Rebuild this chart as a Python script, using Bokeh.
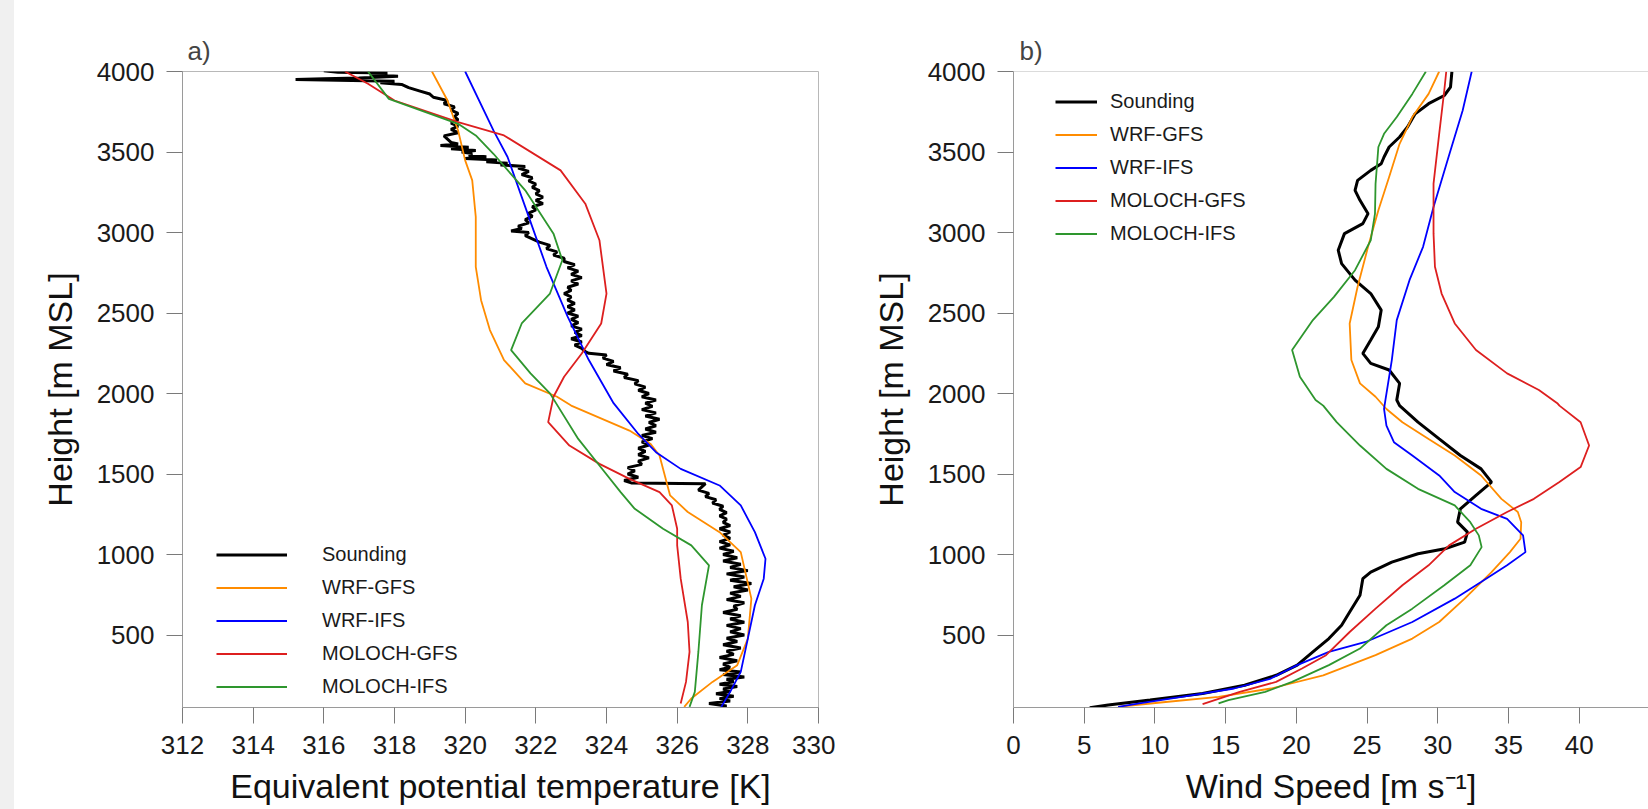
from bokeh.plotting import figure
from bokeh.models import Range1d, FixedTicker, Legend, LegendItem, Span, Div
from bokeh.layouts import row
from bokeh.embed import file_html
from bokeh.resources import INLINE

FONT = "Liberation Sans"
SERIES = ["Sounding", "WRF-GFS", "WRF-IFS", "MOLOCH-GFS", "MOLOCH-IFS"]
COLORS = ["#000000", "#ff8c00", "#0000ff", "#dd1f1f", "#2e962e"]
WIDTHS = [3, 1.8, 1.8, 1.8, 1.8]

# ---------------- panel a) equivalent potential temperature ----------------
SOUND_H_A = [44, 60, 75, 90, 105, 120, 135, 150, 165, 180, 195, 210, 225, 240, 255, 270, 285, 300,
             320, 340, 360, 380, 400, 420, 440, 460, 480, 500, 520, 540, 560, 580, 600, 620, 640, 660,
             680, 700, 720, 740, 760, 780, 800, 820, 840, 860, 880, 900, 920, 940, 960, 980, 1000,
             1020, 1040, 1060, 1080, 1100, 1120, 1140, 1160, 1180, 1200, 1220, 1240, 1260, 1280, 1300,
             1320, 1340, 1360, 1380, 1400, 1420, 1440, 1445, 1460, 1480, 1500, 1520, 1540, 1560, 1580,
             1600, 1620, 1640, 1660, 1680, 1700, 1720, 1740, 1760, 1780, 1800, 1820, 1840, 1860, 1880,
             1900, 1920, 1940, 1960, 1980, 2000, 2020, 2040, 2060, 2080, 2100, 2120, 2140, 2160, 2180,
             2200, 2220, 2240, 2250, 2260, 2280, 2300, 2320, 2340, 2360, 2380, 2400, 2420, 2440, 2460,
             2480, 2500, 2520, 2540, 2560, 2580, 2600, 2620, 2640, 2660, 2680, 2700, 2720, 2740, 2760,
             2780, 2800, 2820, 2840, 2860, 2880, 2900, 2920, 2940, 2960, 2980, 3000, 3010, 3025, 3040,
             3060, 3080, 3100, 3120, 3140, 3160, 3180, 3200, 3220, 3240, 3260, 3280, 3300, 3320, 3340,
             3360, 3380, 3400, 3410, 3420, 3430, 3440, 3450, 3460, 3470, 3480, 3490, 3500, 3510, 3520,
             3530, 3540, 3550, 3560, 3580, 3600, 3620, 3640, 3660, 3680, 3700, 3720, 3740, 3760, 3780,
             3800, 3820, 3840, 3860, 3880, 3900, 3920, 3930, 3940, 3950, 3955, 3960, 3970, 3980, 3990,
             3995, 4005]
SOUND_T_A = [327.0, 327.4, 326.9, 327.5, 327.2, 327.6, 327.1, 327.5, 327.3, 327.7, 327.2, 327.6, 327.4,
             327.9, 327.3, 327.8, 327.2, 327.5, 327.3, 327.7, 327.2, 327.6, 327.4, 327.8, 327.3, 327.7,
             327.4, 327.9, 327.5, 327.8, 327.4, 327.9, 327.5, 327.8, 327.3, 327.7, 327.6, 327.9, 327.4,
             327.8, 327.5, 328.0, 327.6, 328.1, 327.5, 327.9, 327.4, 328.0, 327.5, 327.8, 327.3, 327.7,
             327.3, 327.6, 327.2, 327.5, 327.2, 327.5, 327.3, 327.5, 327.2, 327.5, 327.3, 327.4, 327.2,
             327.4, 327.2, 327.3, 327.0, 327.1, 326.8, 326.9, 326.6, 326.7, 326.8, 324.7, 324.5, 324.9,
             324.6, 324.8, 324.6, 325.0, 324.9, 325.2, 324.9, 325.1, 324.9, 325.2, 325.0, 325.3, 325.0,
             325.4, 325.1, 325.4, 325.2, 325.5, 325.1, 325.4, 325.0, 325.3, 325.1, 325.4, 325.0, 325.2,
             324.9, 325.1, 324.8, 324.9, 324.5, 324.6, 324.2, 324.4, 324.0, 324.2, 323.9, 324.0, 323.5,
             323.4, 323.3, 323.1, 323.3, 323.0, 323.3, 323.1, 323.3, 323.0, 323.2, 323.0, 323.2, 322.9,
             323.1, 322.9, 323.1, 322.9, 323.0, 322.8, 323.0, 322.9, 323.2, 323.0, 323.3, 323.0, 323.2,
             322.9, 323.1, 322.8, 322.8, 322.5, 322.6, 322.3, 322.4, 322.1, 321.9, 321.7, 321.8, 321.3,
             321.6, 321.5, 321.8, 321.7, 321.9, 321.8, 322.0, 321.9, 322.2, 322.0, 322.2, 322.0, 322.1,
             321.9, 322.0, 321.8, 321.9, 321.6, 321.8, 321.5, 321.7, 321.0, 321.2, 320.6, 320.9, 320.0,
             320.6, 320.1, 320.2, 319.9, 320.3, 319.6, 320.1, 319.3, 319.8, 319.6, 319.5, 319.4, 319.8,
             319.6, 319.8, 319.6, 319.8, 319.7, 319.8, 319.6, 319.7, 319.4, 319.5, 319.1, 319.0, 318.7,
             318.4, 318.2, 317.6, 318.0, 315.2, 316.0, 317.0, 318.1, 317.3, 317.8, 316.4, 316.0]

WRFGFS_H_A = [4000, 3820, 3634, 3448, 3324, 3097, 2787, 2580, 2394, 2208, 2063, 1980, 1925, 1770, 1687,
              1615, 1367, 1264, 1139, 1015, 726, 478, 313, 209, 106, 54]
WRFGFS_T_A = [319.06, 319.5, 319.8, 320.0, 320.2, 320.3, 320.3, 320.45, 320.7, 321.1, 321.7, 322.6,
              323.0, 324.65, 325.25, 325.5, 325.8, 326.3, 327.2, 327.8, 328.1, 328.0, 327.7, 327.0,
              326.4, 326.2]

WRFIFS_H_A = [4000, 3634, 3469, 3159, 2787, 2477, 2208, 1940, 1749, 1636, 1532, 1429, 1305, 1139, 974,
              850, 685, 478, 271, 147, 54]
WRFIFS_T_A = [320.0, 320.8, 321.2, 321.7, 322.3, 322.9, 323.5, 324.2, 324.9, 325.4, 326.1, 327.2, 327.8,
              328.2, 328.5, 328.45, 328.2, 328.0, 327.8, 327.5, 327.25]

MOLGFS_H_A = [4000, 3924, 3820, 3686, 3603, 3386, 3179, 2952, 2621, 2435, 2249, 2104, 1980, 1822, 1677,
              1563, 1470, 1388, 1305, 1160, 1057, 850, 581, 395, 209, 75]
MOLGFS_T_A = [316.6, 317.25, 318.0, 319.8, 321.1, 322.7, 323.4, 323.8, 324.0, 323.85, 323.3, 322.8,
              322.5, 322.35, 322.95, 323.8, 324.65, 325.5, 325.85, 326.0, 326.0, 326.1, 326.3, 326.35,
              326.25, 326.1]

MOLIFS_H_A = [4000, 3830, 3675, 3603, 3489, 3262, 2993, 2828, 2621, 2435, 2270, 2125, 2001, 1718, 1553,
              1388, 1284, 1160, 1057, 933, 685, 395, 147, 54]
MOLIFS_T_A = [317.25, 317.84, 319.8, 320.3, 320.8, 321.7, 322.5, 322.75, 322.4, 321.6, 321.3, 321.85,
              322.4, 323.2, 323.8, 324.4, 324.8, 325.6, 326.4, 326.9, 326.7, 326.6, 326.5, 326.35]

# ---------------- panel b) wind speed ----------------
SOUND_H_B = [4000, 3903, 3851, 3800, 3737, 3655, 3593, 3531, 3469, 3427, 3386, 3324, 3262, 3200, 3117,
             3055, 2993, 2890, 2807, 2704, 2621, 2518, 2414, 2332, 2249, 2187, 2146, 2063, 1960, 1925,
             1822, 1718, 1615, 1532, 1450, 1367, 1284, 1201, 1139, 1077, 1036, 1005, 953, 891, 850, 747,
             643, 561, 478, 395, 313, 250, 188, 137, 96, 65, 48]
SOUND_V_B = [31.0, 30.9, 30.46, 29.35, 28.4, 27.86, 27.3, 26.56, 26.2, 26.0, 25.26, 24.33, 24.15, 24.5,
             25.07, 24.7, 23.4, 22.96, 23.2, 24.15, 25.26, 26.0, 25.8, 25.26, 24.7, 25.26, 26.56, 27.3,
             27.1, 27.3, 28.6, 30.1, 31.6, 33.06, 33.8, 32.7, 31.6, 31.4, 32.1, 31.9, 30.5, 28.6, 26.75,
             25.26, 24.7, 24.5, 23.77, 23.2, 22.3, 21.17, 20.06, 18.57, 16.34, 13.37, 9.66, 6.7, 5.39]

WRFGFS_H_B = [4000, 3861, 3717, 3551, 3345, 3138, 2911, 2663, 2435, 2208, 2063, 1980, 1904, 1822, 1718,
              1615, 1491, 1346, 1264, 1201, 1098, 1015, 891, 726, 581, 478, 375, 250, 168, 116, 81, 54]
WRFGFS_V_B = [30.1, 29.35, 28.2, 27.3, 26.56, 25.8, 25.07, 24.33, 23.77, 23.89, 24.5, 25.6, 26.37, 27.5,
              29.35, 31.2, 33.06, 34.5, 35.66, 35.9, 35.85, 35.1, 33.8, 31.9, 30.1, 28.2, 25.6, 21.9,
              18.2, 14.5, 10.4, 7.4]

WRFIFS_H_B = [4000, 3758, 3489, 3159, 2911, 2704, 2456, 2208, 1960, 1904, 1801, 1698, 1615, 1491, 1388,
              1284, 1222, 1119, 1015, 933, 829, 726, 581, 457, 395, 313, 230, 168, 116, 75, 54]
WRFIFS_V_B = [32.4, 31.76, 30.83, 29.7, 28.96, 28.0, 27.1, 26.75, 26.3, 26.2, 26.37, 26.9, 28.2, 30.1,
              31.2, 33.06, 34.9, 36.03, 36.2, 34.9, 33.06, 31.2, 28.2, 24.9, 22.3, 20.06, 18.2, 15.6,
              11.9, 8.9, 7.4]

MOLGFS_H_B = [4000, 3882, 3613, 3303, 2993, 2787, 2621, 2435, 2270, 2125, 2022, 1940, 1925, 1822, 1677,
              1543, 1450, 1346, 1264, 1160, 1057, 933, 809, 664, 519, 375, 292, 209, 147, 71]
MOLGFS_V_B = [30.6, 30.46, 30.1, 29.7, 29.7, 29.8, 30.27, 31.2, 32.7, 34.9, 37.15, 38.45, 38.6, 40.1,
              40.7, 40.1, 38.6, 36.8, 34.9, 32.7, 30.8, 29.35, 27.5, 25.6, 23.77, 22.1, 20.4, 18.57,
              16.0, 13.37]

MOLIFS_H_B = [4000, 3861, 3717, 3613, 3531, 3303, 3117, 2952, 2766, 2600, 2456, 2270, 2104, 1960, 1925,
              1822, 1677, 1532, 1408, 1305, 1201, 1119, 1046, 933, 809, 664, 561, 416, 313, 209, 147,
              96, 75]
MOLIFS_V_B = [29.16, 28.2, 27.1, 26.2, 25.8, 25.6, 25.56, 25.26, 24.15, 22.66, 21.17, 19.7, 20.25, 21.36,
              21.9, 22.85, 24.5, 26.37, 28.6, 31.2, 32.3, 32.9, 33.1, 32.3, 30.46, 28.2, 26.37, 24.5,
              22.3, 19.7, 17.8, 15.2, 14.5]

Y_TICKS = [500, 1000, 1500, 2000, 2500, 3000, 3500, 4000]
X_TICKS_A = [312, 314, 316, 318, 320, 322, 324, 326, 328, 330]
X_TICKS_B = [0, 5, 10, 15, 20, 25, 30, 35, 40, 45]


def style(p, xticks, xlabel):
    p.xaxis.ticker = FixedTicker(ticks=xticks)
    p.yaxis.ticker = FixedTicker(ticks=Y_TICKS)
    for ax in (p.xaxis[0], p.yaxis[0]):
        ax.axis_line_color = "#9a9a9a"
        ax.major_tick_line_color = "#7a7a7a"
        ax.major_tick_out = 16
        ax.major_tick_in = 0
        ax.minor_tick_line_color = None
        ax.major_label_text_font = FONT
        ax.major_label_text_font_size = "26px"
        ax.major_label_text_color = "#1a1a1a"
        ax.axis_label_text_font = FONT
        ax.axis_label_text_font_style = "normal"
        ax.axis_label_text_color = "#111111"
    p.xaxis.axis_label = xlabel
    p.xaxis.axis_label_text_font_size = "34px"
    p.xaxis.major_label_standoff = 12
    p.xaxis.axis_label_standoff = 10
    p.yaxis.axis_label = "Height [m MSL]"
    p.yaxis.axis_label_text_font_size = "34px"
    p.yaxis.major_label_standoff = 12
    p.yaxis.axis_label_standoff = 15
    p.grid.visible = False
    p.title.text_font = FONT
    p.title.text_font_size = "26px"
    p.title.text_font_style = "normal"
    p.title.align = "left"
    p.title.standoff = 12
    p.background_fill_color = "white"
    p.border_fill_color = "white"


def add_lines(p, pairs):
    items = []
    for name, color, w, (xs, ys) in zip(SERIES, COLORS, WIDTHS, pairs):
        r = p.line(xs, ys, line_color=color, line_width=w)
        items.append(LegendItem(label=name, renderers=[r]))
    return items


def make_legend(items, loc, gw, standoff):
    return Legend(items=items, location=loc, orientation="vertical",
                  glyph_width=gw, glyph_height=33, label_height=33, label_standoff=standoff,
                  spacing=0, padding=0, margin=0, border_line_color=None,
                  background_fill_alpha=0, label_text_font=FONT, label_text_font_size="20px",
                  label_text_color="#1a1a1a")


# light strip at the far left of the picture
strip = Div(width=14, height=809, margin=0, styles={"background-color": "#f0f0f0"})

# ---- panel a
p1 = figure(width=821, height=809, output_backend="svg", toolbar_location=None,
            x_range=Range1d(312, 330), y_range=Range1d(50, 4000),
            min_border_left=168, min_border_right=17, min_border_top=71, min_border_bottom=102,
            title="a)")
style(p1, X_TICKS_A, "Equivalent potential temperature [K]")
p1.title.offset = 5
p1.outline_line_color = "#b8b8b8"
items1 = add_lines(p1, [(SOUND_T_A, SOUND_H_A), (WRFGFS_T_A, WRFGFS_H_A), (WRFIFS_T_A, WRFIFS_H_A),
                        (MOLGFS_T_A, MOLGFS_H_A), (MOLIFS_T_A, MOLIFS_H_A)])
p1.add_layout(make_legend(items1, (34, 4), 71, 35))

# ---- panel b
p2 = figure(width=813, height=809, output_backend="svg", toolbar_location=None,
            x_range=Range1d(0, 44.9), y_range=Range1d(50, 4000),
            min_border_left=178, min_border_right=0, min_border_top=71, min_border_bottom=102,
            title="b)")
style(p2, X_TICKS_B, "Wind Speed [m s\u207b\u00b9]")
p2.title.offset = 6
p2.outline_line_color = None
p2.add_layout(Span(location=4000, dimension="width", line_color="#b8b8b8", line_width=1))
items2 = add_lines(p2, [(SOUND_V_B, SOUND_H_B), (WRFGFS_V_B, WRFGFS_H_B), (WRFIFS_V_B, WRFIFS_H_B),
                        (MOLGFS_V_B, MOLGFS_H_B), (MOLIFS_V_B, MOLIFS_H_B)])
p2.add_layout(make_legend(items2, (42, 457), 42, 13))

layout = row(strip, p1, p2)
open("out.html", "w").write(file_html(layout, INLINE))
